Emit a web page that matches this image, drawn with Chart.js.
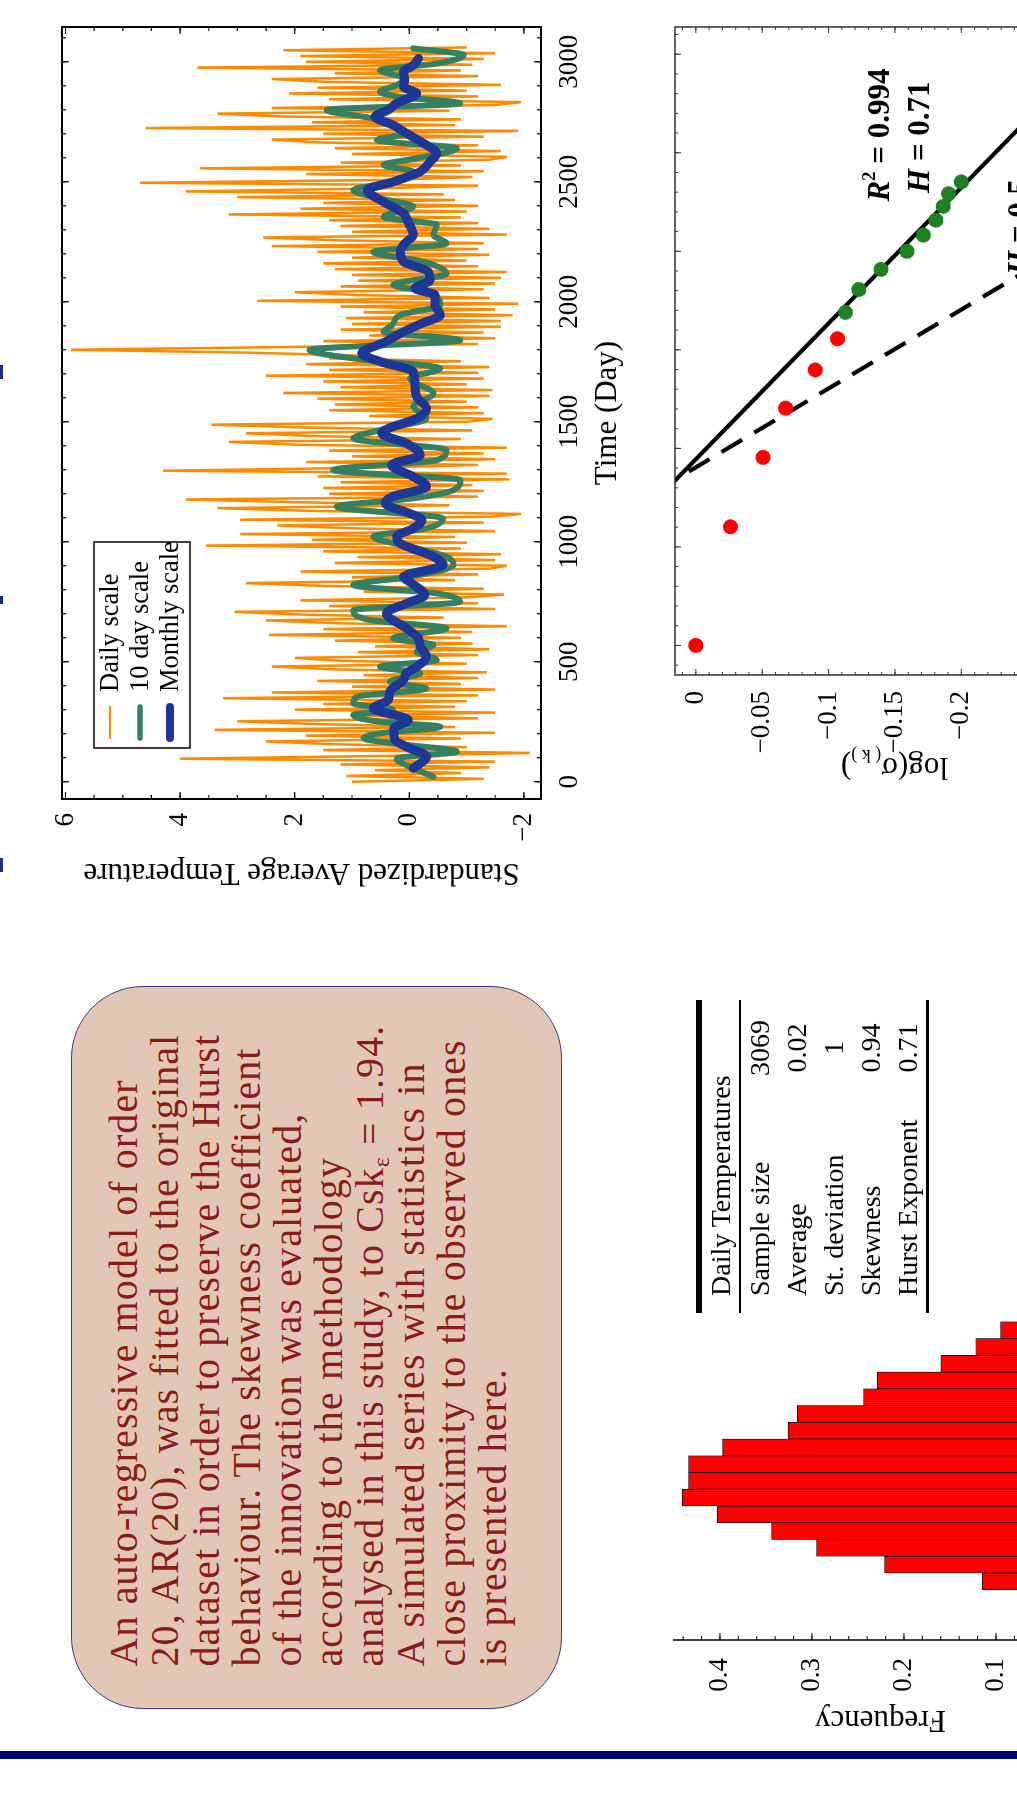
<!DOCTYPE html>
<html>
<head>
<meta charset="utf-8">
<script src="https://cdn.jsdelivr.net/npm/chart.js@4.4.0/dist/chart.umd.min.js"></script>
<style>
html,body{margin:0;padding:0;background:#fff;}
body{width:1017px;height:1800px;overflow:hidden;position:relative;}
#page{position:absolute;left:0;top:0;width:1800px;height:1017px;transform-origin:0 0;
  transform:translate(0,1800px) rotate(-90deg);overflow:hidden;background:#fff;
  font-family:"Liberation Serif","Times New Roman",serif;color:#000;}
canvas{position:absolute;}
#navybar{position:absolute;left:41px;top:0;width:8px;height:1017px;background:#000080;}
.mark{position:absolute;top:0;height:3px;background:#1c2a8c;}
#textbox{position:absolute;left:91px;top:71px;width:723px;height:491px;box-sizing:border-box;
  border:1.5px solid #3a3a8a;border-radius:72px;background:#E3C7B6;}
#boxtext{position:absolute;left:41.5px;top:31px;font-size:40px;line-height:41px;letter-spacing:1.1px;
  color:#8B1A1A;white-space:nowrap;}
#boxtext sub{font-size:0.6em;vertical-align:-0.25em;line-height:0;}
#table{position:absolute;left:487px;top:696px;width:313px;font-size:28px;line-height:37px;}
#table .thick{height:5.5px;background:#000;}
#table .thin{height:2.5px;background:#000;}
#table .row{position:relative;height:37px;padding-left:17px;white-space:nowrap;}
#table .val{position:absolute;left:225px;width:80px;top:0;text-align:center;}
</style>
</head>
<body>
<div id="page">
  <div id="navybar"></div>
  <div class="mark" style="left:1421px;width:14px"></div>
  <div class="mark" style="left:1196px;width:8px"></div>
  <div class="mark" style="left:928px;width:14px"></div>
  <div id="textbox"><div id="boxtext"></div></div>
  <canvas id="hist" width="640" height="560" style="left:40px;top:600px;width:640px;height:560px"></canvas>
  <div id="table"></div>
  <canvas id="ts" width="920" height="640" style="left:880px;top:0px;width:920px;height:640px"></canvas>
  <canvas id="logp" width="820" height="560" style="left:980px;top:600px;width:820px;height:560px"></canvas>
</div>
<script>
// ---------------- DATA ----------------
// Time series (standardized average temperature)
const DAY_STEP = 12;
const dailyTemp = [
 1.0,-1.3,1.1,-0.9,0.6,-1.4,1.2,-1.5,4.0,0.3,
 -2.1,1.5,-1.0,1.3,2.5,-0.9,1.8,-1.5,3.4,-0.8,
 1.6,3.0,-1.2,1.0,-1.5,2.0,-0.8,1.5,-1.0,3.25,
 -1.2,2.4,-1.5,1.0,-0.9,1.6,-1.2,0.8,-1.35,1.3,
 2.4,-1.0,1.2,2.0,-1.2,0.9,-1.4,0.6,-1.1,1.3,
 -0.9,2.45,-1.1,1.5,-1.7,1.2,2.5,-0.6,1.8,3.05,
 -1.5,1.4,-1.2,1.9,-1.0,-1.65,0.8,-1.3,1.5,2.85,
 -0.8,1.0,-1.2,1.9,-1.4,-1.7,1.3,-1.5,0.9,-1.6,
 1.5,-0.9,3.55,-1.0,1.7,-0.8,2.95,-1.5,1.0,2.3,
 -1.3,2.95,-1.4,-1.95,1.6,3.35,-0.7,1.8,3.9,-1.2,
 1.4,-1.3,1.5,-1.1,1.2,-1.75,1.6,-1.7,4.3,0.8,
 -1.2,1.8,-1.5,1.0,-1.3,1.4,-1.7,1.9,3.15,-0.9,
 1.6,2.85,-1.1,1.8,3.45,-1.0,-1.45,0.7,-1.3,1.4,
 -1.2,1.3,-1.0,1.6,-1.4,2.2,-1.45,1.2,-1.0,1.5,
 -1.3,2.5,-1.2,1.4,-1.4,1.8,-0.9,1.4,0.9,2.8,
 5.9,2.0,-1.2,1.5,-1.5,0.7,-1.3,1.2,-1.6,1.0,
 -1.6,1.1,-1.8,0.8,-1.5,1.2,-1.9,2.65,-1.4,0.9,
 2.0,-1.3,1.2,-1.5,0.9,-1.6,1.0,-1.7,1.3,-1.2,
 1.5,-1.0,1.0,-1.4,1.6,-1.2,2.4,-1.3,1.2,2.55,
 -1.7,1.0,-1.4,1.2,-1.2,1.4,-0.9,3.15,-1.0,1.9,
 -1.2,1.5,-0.8,3.0,-0.6,3.9,0.6,-1.2,4.7,0.3,
 -1.1,1.8,-1.3,3.65,-0.9,1.2,-1.4,-1.7,1.0,-1.6,
 1.3,-1.2,1.6,2.4,-1.3,1.5,-1.9,4.6,-0.8,1.7,
 -0.9,2.2,3.35,-0.7,2.4,-1.5,-1.95,1.4,-1.2,2.1,
 -1.0,1.6,-1.6,1.4,2.4,-1.2,1.3,-0.9,3.7,-1.1,
 1.8,-1.3,1.9,-1.5,2.2,-1.0
];
const dailyDays = dailyTemp.map((_, i) => i * DAY_STEP);

const tenDayDays = [21,62,97,125,160,181,202,229,250,278,299,327,354,389,417,452,479,507,542,570,
 598,639,674,715,750,785,820,854,903,938,979,1021,1056,1097,1146,1181,1215,1257,1299,1340,
 1382,1431,1465,1514,1563,1618,1681,1722,1764,1799,1840,1875,1903,1945,1986,2042,2070,2118,2167,2208,
 2243,2278,2320,2354,2396,2431,2465,2500,2542,2570,2598,2639,2674,2702,2736,2764,2799,2827,2854,2875,
 2903,2931,2965,2993,3028,3056];
const tenDayTemp = [-0.42,-0.01,0.22,-0.83,0.28,0.80,0.51,-0.54,0.51,0.98,0.28,0.98,0.92,-0.30,0.34,-0.19,0.51,-0.48,-0.13,-0.42,
 0.28,-0.65,0.69,0.98,-0.89,-0.48,0.98,-0.01,-0.77,-0.65,-0.01,0.63,-0.30,-0.59,1.27,-0.07,-0.77,-0.89,1.33,-0.48,
 -0.65,0.98,0.51,-0.30,-0.07,-0.42,-0.01,-0.54,0.98,1.74,-0.89,0.45,0.30,0.16,-0.54,-0.30,0.28,-0.65,-0.25,0.63,
 -0.65,-0.42,-0.48,0.45,-0.07,0.51,0.98,0.28,-0.07,0.45,-0.13,-0.83,0.57,0.05,0.28,0.63,1.44,-0.89,0.16,0.51,
 0.22,0.10,0.51,-0.48,-0.95,-0.07];

const monthlyDays = [56,104,146,174,222,257,306,340,375,424,452,479,521,563,597,639,702,743,778,827,
 854,903,938,993,1021,1056,1090,1118,1160,1188,1229,1271,1320,1361,1410,1452,1521,1556,1604,1646,
 1708,1751,1785,1833,1875,1910,1945,1986,2028,2056,2090,2125,2167,2208,2243,2278,2333,2368,2424,2465,
 2500,2542,2583,2618,2660,2702,2736,2771,2799,2827,2868,2896,2924,2958,2986,3014];
const monthlyTemp = [-0.07,-0.30,0.05,0.25,0.27,0.02,0.63,0.37,0.34,0.10,0.05,-0.13,-0.30,-0.19,-0.16,0.05,0.40,0.05,-0.27,-0.04,
 0.10,-0.59,-0.42,0.16,0.22,-0.07,-0.22,-0.01,0.42,0.30,-0.30,-0.07,0.31,-0.19,0.05,0.48,-0.19,-0.30,-0.13,-0.10,
 -0.07,0.51,0.83,0.42,0.10,-0.22,-0.54,-0.45,-0.45,-0.10,-0.36,-0.33,0.10,0.16,0.08,-0.07,0.02,0.10,0.51,0.74,
 0.28,-0.19,-0.36,-0.48,-0.25,0.05,0.28,0.60,0.37,0.22,-0.13,0.10,0.08,0.10,-0.07,-0.16];

const seriesLabels = ['Daily scale', '10 day scale', 'Monthly scale'];
const timeTicks = [0, 500, 1000, 1500, 2000, 2500, 3000];
const tempTicks = [-2, 0, 2, 4, 6];

// Hurst (aggregated standard deviation) plot
const redLogK = [0, 0.301, 0.477, 0.602, 0.699, 0.778];
const redLogSigma = [0, -0.0261, -0.0506, -0.0676, -0.0899, -0.1068];
const greenLogK = [0.845, 0.903, 0.954, 1.0, 1.041, 1.079, 1.114, 1.146, 1.176];
const greenLogSigma = [-0.1127, -0.1228, -0.1395, -0.1590, -0.1714, -0.1808, -0.1864, -0.1904, -0.2000];
const fitLogK = [-0.1, 1.6];
const fitH071 = [0.166, -0.327];
const fitH05 = [0.276, -0.574];
const sigmaTicks = [0, -0.05, -0.1, -0.15, -0.2, -0.25, -0.3];
const logKTicks = [0, 0.25, 0.5, 0.75, 1, 1.25, 1.5];

// Histogram of daily temperatures
const binCenters = ['-2.1','-1.9','-1.7','-1.5','-1.3','-1.1','-0.9','-0.7','-0.5','-0.3','-0.1','0.1','0.3',
 '0.5','0.7','0.9','1.1','1.3','1.5','1.7','1.9','2.1','2.3','2.5','2.7','2.9','3.1','3.3','3.5','3.7'];
const binFreq = [0.015,0.035,0.06,0.115,0.221,0.295,0.344,0.403,0.441,0.434,0.434,0.397,0.326,
 0.316,0.244,0.229,0.160,0.122,0.095,0.07,0.055,0.045,0.035,0.028,0.02,0.015,0.012,0.008,0.006,0.004];
const freqTicks = [0.1, 0.2, 0.3, 0.4];

// Table and text
const tableTitle = 'Daily Temperatures';
const statNames = ['Sample size', 'Average', 'St. deviation', 'Skewness', 'Hurst Exponent'];
const statValues = ['3069', '0.02', '1', '0.94', '0.71'];
const boxLines = [
 'An auto-regressive model of order',
 '20, AR(20), was fitted to the original',
 'dataset in order to preserve the Hurst',
 'behaviour. The skewness coefficient',
 'of the innovation was evaluated,',
 'according to the methodology',
 'analysed in this study, to Csk<sub>ε</sub> = 1.94.',
 'A simulated series with statistics in',
 'close proximity to the observed ones',
 'is presented here.'
];

// ---------------- HTML parts ----------------
document.getElementById('boxtext').innerHTML = boxLines.join('<br>');
(function(){
  const t = document.getElementById('table');
  let h = '<div class="thick"></div><div class="row">' + tableTitle + '</div><div class="thin"></div>';
  statNames.forEach((n, i) => { h += '<div class="row">' + n + '<span class="val">' + statValues[i] + '</span></div>'; });
  h += '<div class="thin"></div>';
  t.innerHTML = h;
})();

// ---------------- Helpers / plugins ----------------
Chart.defaults.font.family = '"Liberation Serif","Times New Roman",serif';
Chart.defaults.color = '#000';
const FONT = '"Liberation Serif","Times New Roman",serif';
const TICK_SIZE = 27;
const fmt = v => (v < 0 ? '\u2212' : '') + String(Math.abs(v));
function range(a, b, s) { const out = []; const n = Math.round((b - a) / s); for (let i = 0; i <= n; i++) out.push(+(a + i * s).toFixed(6)); return out; }

const framePlugin = {
  id: 'frame',
  afterDatasetsDraw(chart, args, o) {
    const {ctx, chartArea: {left, right, top, bottom}} = chart;
    const xs = chart.scales.x, ys = chart.scales.y;
    ctx.save();
    ctx.strokeStyle = o.color; ctx.lineWidth = o.tickWidth;
    const tx = (vals, len) => vals.forEach(v => {
      const p = xs.getPixelForValue(v); if (p < left - 0.5 || p > right + 0.5) return;
      ctx.beginPath(); ctx.moveTo(p, bottom); ctx.lineTo(p, bottom - len); ctx.moveTo(p, top); ctx.lineTo(p, top + len); ctx.stroke();
    });
    const ty = (vals, len) => vals.forEach(v => {
      const p = ys.getPixelForValue(v); if (p < top - 0.5 || p > bottom + 0.5) return;
      ctx.beginPath(); ctx.moveTo(left, p); ctx.lineTo(left + len, p); ctx.moveTo(right, p); ctx.lineTo(right - len, p); ctx.stroke();
    });
    tx(o.xMinor, o.minorLen); tx(o.xMajor, o.majorLen);
    ty(o.yMinor, o.minorLen); ty(o.yMajor, o.majorLen);
    ctx.lineWidth = o.lineWidth;
    ctx.strokeRect(left, top, right - left, bottom - top);
    ctx.restore();
  }
};

const boxLegend = {
  id: 'boxLegend',
  afterDraw(chart, args, o) {
    const {ctx, chartArea} = chart;
    const x0 = chartArea.left + o.dx, y0 = chartArea.top + o.dy;
    ctx.save();
    ctx.fillStyle = '#fff'; ctx.fillRect(x0, y0, o.w, o.h);
    ctx.strokeStyle = '#000'; ctx.lineWidth = 1.5; ctx.strokeRect(x0, y0, o.w, o.h);
    chart.data.datasets.forEach((ds, i) => {
      const cy = y0 + o.rowStart + i * o.rowGap;
      ctx.strokeStyle = ds.borderColor; ctx.lineWidth = o.sampleWidths[i]; ctx.lineCap = 'round';
      ctx.beginPath(); ctx.moveTo(x0 + o.sx0, cy); ctx.lineTo(x0 + o.sx1, cy); ctx.stroke();
      ctx.fillStyle = '#000'; ctx.font = o.font; ctx.textBaseline = 'middle'; ctx.textAlign = 'left';
      ctx.fillText(ds.label, x0 + o.tx, cy + 1);
    });
    ctx.restore();
  }
};

const fitLabels = {
  id: 'fitLabels',
  afterDatasetsDraw(chart, args, o) {
    const {ctx, scales: {x, y}} = chart;
    ctx.save(); ctx.fillStyle = '#000'; ctx.textBaseline = 'alphabetic'; ctx.textAlign = 'left';
    o.items.forEach(it => {
      let px = x.getPixelForValue(it.x); const py = y.getPixelForValue(it.y);
      it.parts.forEach(([txt, font, dy]) => { ctx.font = font; ctx.fillText(txt, px, py + dy); px += ctx.measureText(txt).width; });
    });
    ctx.restore();
  }
};

const sigmaTitle = {
  id: 'sigmaTitle',
  afterDraw(chart, args, o) {
    const {ctx, chartArea} = chart;
    const cx = chartArea.left - o.offset, cy = (chartArea.top + chartArea.bottom) / 2;
    ctx.save(); ctx.translate(cx, cy); ctx.rotate(-Math.PI / 2);
    ctx.fillStyle = '#000'; ctx.textBaseline = 'alphabetic'; ctx.textAlign = 'left';
    const parts = o.parts.map(p => { ctx.font = p[1]; return [p[0], p[1], p[2], ctx.measureText(p[0]).width]; });
    let total = parts.reduce((s, p) => s + p[3], 0);
    let x = -total / 2;
    parts.forEach(p => { ctx.font = p[1]; ctx.fillText(p[0], x, o.baseline + p[2]); x += p[3]; });
    ctx.restore();
  }
};

const histAxis = {
  id: 'histAxis',
  afterDatasetsDraw(chart, args, o) {
    const {ctx, chartArea: {left, top, bottom}} = chart;
    const ys = chart.scales.y;
    ctx.save(); ctx.strokeStyle = '#000';
    ctx.lineWidth = 1;
    const t = (vals, len) => vals.forEach(v => { const p = ys.getPixelForValue(v); ctx.beginPath(); ctx.moveTo(left, p); ctx.lineTo(left + len, p); ctx.stroke(); });
    t(o.minor, o.minorLen); t(o.major, o.majorLen);
    ctx.lineWidth = 1.5; ctx.beginPath(); ctx.moveTo(left, top); ctx.lineTo(left, bottom); ctx.stroke();
    ctx.restore();
  }
};

// ---------------- Time series chart ----------------
new Chart(document.getElementById('ts'), {
  type: 'line',
  data: {
    datasets: [
      {label: seriesLabels[0], data: dailyTemp.map((v, i) => ({x: dailyDays[i], y: v})), borderColor: '#FF8A00', borderWidth: 2.5, pointRadius: 0, tension: 0, order: 3},
      {label: seriesLabels[1], data: tenDayTemp.map((v, i) => ({x: tenDayDays[i], y: v})), borderColor: '#348060', borderWidth: 6, pointRadius: 0, cubicInterpolationMode: 'monotone', borderJoinStyle: 'round', borderCapStyle: 'round', order: 2},
      {label: seriesLabels[2], data: monthlyTemp.map((v, i) => ({x: monthlyDays[i], y: v})), borderColor: '#1E3796', borderWidth: 9, pointRadius: 0, cubicInterpolationMode: 'monotone', borderJoinStyle: 'round', borderCapStyle: 'round', order: 1}
    ]
  },
  options: {
    responsive: false, animation: false, devicePixelRatio: 1,
    layout: {padding: {left: 0, right: 27, top: 62, bottom: 0}},
    plugins: {
      legend: {display: false}, tooltip: {enabled: false},
      frame: {color: '#000', lineWidth: 2, tickWidth: 1.2, majorLen: 7, minorLen: 4,
        xMajor: timeTicks, xMinor: range(0, 3100, 100), yMajor: tempTicks, yMinor: range(-2, 6, 0.5)},
      boxLegend: {dx: 51, dy: 32, w: 206, h: 96, rowStart: 16, rowGap: 30, sx0: 10, sx1: 41, tx: 56,
        sampleWidths: [2, 5.5, 8], font: '26.5px ' + FONT}
    },
    scales: {
      x: {type: 'linear', min: -72, max: 3145,
        afterBuildTicks: s => { s.ticks = timeTicks.map(v => ({value: v})); },
        ticks: {font: {size: TICK_SIZE}, color: '#000', padding: 13, maxRotation: 0, minRotation: 0, autoSkip: false, callback: v => String(v)},
        grid: {display: false, drawTicks: false}, border: {display: false},
        title: {display: true, text: 'Time (Day)', font: {size: 31}, color: '#000', padding: {top: 0, bottom: 14}},
        afterFit: s => { s.height = 99; }},
      y: {type: 'linear', min: -2.298, max: 6.061,
        afterBuildTicks: s => { s.ticks = tempTicks.map(v => ({value: v})); },
        ticks: {font: {size: TICK_SIZE}, color: '#000', padding: 14, callback: v => fmt(v)},
        grid: {display: false, drawTicks: false}, border: {display: false},
        title: {display: true, text: 'Standardized Average Temperature', font: {size: 31}, color: '#000', padding: {top: 29, bottom: 0}},
        afterFit: s => { s.width = 121; }}
    }
  },
  plugins: [framePlugin, boxLegend]
});

// ---------------- Hurst log plot ----------------
const BOLD = 'bold 31px ' + FONT, BOLDI = 'italic bold 31px ' + FONT, SUP = 'bold 19px ' + FONT;
new Chart(document.getElementById('logp'), {
  type: 'scatter',
  data: {
    datasets: [
      {data: redLogK.map((v, i) => ({x: v, y: redLogSigma[i]})), pointRadius: 7.5, pointBackgroundColor: '#FF0000', pointBorderWidth: 0, order: 1},
      {data: greenLogK.map((v, i) => ({x: v, y: greenLogSigma[i]})), pointRadius: 7.5, pointBackgroundColor: '#1F8020', pointBorderWidth: 0, order: 1},
      {data: fitLogK.map((v, i) => ({x: v, y: fitH071[i]})), showLine: true, pointRadius: 0, borderColor: '#000', borderWidth: 4.2, clip: 0, order: 3},
      {data: fitLogK.map((v, i) => ({x: v, y: fitH05[i]})), showLine: true, pointRadius: 0, borderColor: '#000', borderWidth: 4.2, borderDash: [24, 14], clip: 0, order: 3}
    ]
  },
  options: {
    responsive: false, animation: false, devicePixelRatio: 1,
    layout: {padding: {left: 0, right: 27, top: 75, bottom: 0}},
    plugins: {
      legend: {display: false}, tooltip: {enabled: false},
      frame: {color: '#333', lineWidth: 1.5, tickWidth: 1, majorLen: 6, minorLen: 3,
        xMajor: logKTicks, xMinor: range(-0.05, 1.55, 0.05), yMajor: sigmaTicks, yMinor: range(-0.32, 0.01, 0.01)},
      fitLabels: {items: [
        {x: 1.126, y: -0.1456, parts: [['R', BOLDI, 0], ['2', SUP, -14], [' = 0.994', BOLD, 0]]},
        {x: 1.148, y: -0.176, parts: [['H', BOLDI, 0], [' = 0.71', BOLD, 0]]},
        {x: 0.94, y: -0.251, parts: [['H', BOLDI, 0], [' = 0.5', BOLD, 0]]}
      ]},
      sigmaTitle: {offset: 93, baseline: 10, parts: [['log(\u03c3', '31px ' + FONT, 0], ['( k )', '18px ' + FONT, 8], [')', '31px ' + FONT, 0]]}
    },
    scales: {
      x: {type: 'linear', min: -0.075, max: 1.569,
        afterBuildTicks: s => { s.ticks = logKTicks.map(v => ({value: v})); },
        ticks: {font: {size: TICK_SIZE}, color: '#000', padding: 12, maxRotation: 0, autoSkip: false, callback: v => String(v)},
        grid: {display: false, drawTicks: false}, border: {display: false},
        afterFit: s => { s.height = 46; }},
      y: {type: 'linear', min: -0.315, max: 0.0157,
        afterBuildTicks: s => { s.ticks = sigmaTicks.map(v => ({value: v})); },
        ticks: {font: {size: TICK_SIZE}, color: '#000', padding: 16, callback: v => fmt(v)},
        grid: {display: false, drawTicks: false}, border: {display: false},
        afterFit: s => { s.width = 145; }}
    }
  },
  plugins: [framePlugin, fitLabels, sigmaTitle]
});

// ---------------- Histogram ----------------
new Chart(document.getElementById('hist'), {
  type: 'bar',
  data: {labels: binCenters, datasets: [{data: binFreq, backgroundColor: '#FF0000', borderColor: '#000', borderWidth: 0.8,
    borderSkipped: false, categoryPercentage: 1, barPercentage: 1}]},
  options: {
    responsive: false, animation: false, devicePixelRatio: 1,
    layout: {padding: {left: 0, right: 640 - 120 - binCenters.length * 16.75, top: 73, bottom: 0}},
    plugins: {legend: {display: false}, tooltip: {enabled: false},
      histAxis: {major: freqTicks, minor: range(0.02, 0.44, 0.02), majorLen: 7, minorLen: 4}},
    scales: {
      x: {display: true, ticks: {display: false}, grid: {display: false, drawTicks: false}, border: {display: false},
        afterFit: s => { s.height = 72; }},
      y: {min: 0, max: 0.451,
        afterBuildTicks: s => { s.ticks = freqTicks.map(v => ({value: v})); },
        ticks: {font: {size: TICK_SIZE}, color: '#000', padding: 18},
        grid: {display: false, drawTicks: false}, border: {display: false},
        title: {display: true, text: 'Frequency', font: {size: 31}, color: '#000', padding: {top: 22, bottom: 0}},
        afterFit: s => { s.width = 120; }}
    }
  },
  plugins: [histAxis]
});
</script>
</body>
</html>
